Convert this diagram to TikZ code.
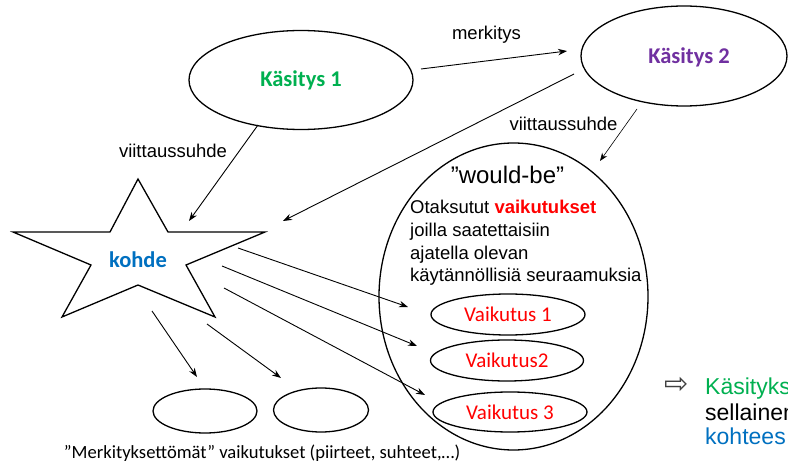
\documentclass[tikz,border=0pt]{standalone}
\usepackage{fontspec}
\setmainfont{Liberation Sans}
\newfontfamily\calib{Carlito}
\newfontfamily\djv{DejaVu Sans}
\usetikzlibrary{shapes.geometric,arrows.meta}
\definecolor{kgreen}{RGB}{0,176,80}
\definecolor{kpurple}{RGB}{112,48,160}
\definecolor{kblue}{RGB}{0,112,192}
\definecolor{kred}{RGB}{255,0,0}
\definecolor{kgray}{RGB}{64,64,64}
\begin{document}
\begin{tikzpicture}[x=1pt,y=-1pt,
  ell/.style={draw, ellipse, line width=1.3pt, inner sep=0pt},
  arr/.style={-{Stealth[length=9pt,width=6.5pt]}, line width=0.9pt},
  thinarr/.style={-{Stealth[length=8pt,width=6pt]}, line width=0.6pt},
  lbl/.style={inner sep=0pt, font=\fontsize{18.5}{22}\selectfont},
  ktxt/.style={inner sep=0pt, font=\calib\bfseries\fontsize{22.5}{26}\selectfont},
  vtxt/.style={inner sep=0pt, text=kred, font=\calib\fontsize{21}{24}\selectfont},
  wbtxt/.style={inner sep=0pt, anchor=base west, font=\fontsize{18.5}{22}\selectfont},
  rtxt/.style={inner sep=0pt, anchor=base west, font=\fontsize{23}{26}\selectfont}]
\useasboundingbox (0,0) rectangle (788,465);
\begin{scope}
\clip (0,0) rectangle (788,465);
% Kasitys ellipses
\node[ell, minimum width=224pt, minimum height=99pt] (k1) at (301,80) {};
\node[ktxt, text=kgreen] (k1t) at (301,80) {Käsitys 1};
\node[ell, minimum width=206pt, minimum height=100pt] (k2) at (684,56) {};
\node[ktxt, text=kpurple] (k2t) at (689,57) {Käsitys 2};
% star
\draw[line width=1.3pt, line join=miter] (138,179) -- (168,232) -- (265,232) -- (186,265) -- (215,317)
  -- (138,285) -- (62,317) -- (91,265) -- (13,232) -- (110,232) -- cycle;
\node[ktxt, text=kblue] (kohde) at (138,260) {kohde};
% would-be ellipse
\node[ell, minimum width=269pt, minimum height=307pt] (wb) at (513.5,296.5) {};
\node[inner sep=0pt, anchor=base, font=\fontsize{24}{28}\selectfont] (wbt) at (507.5,184) {”would-be”};
\node[wbtxt] (l1) at (410,213.3) {Otaksutut \textcolor{kred}{\bfseries vaikutukset}};
\node[wbtxt] (l2) at (410,236.5) {joilla saatettaisiin};
\node[wbtxt] (l3) at (410,259.3) {ajatella olevan};
\node[wbtxt] (l4) at (410,282) {käytännöllisiä seuraamuksia};
% Vaikutus ellipses
\node[ell, minimum width=154pt, minimum height=41pt] (v1) at (508,314.5) {};
\node[vtxt] (v1t) at (508,314.5) {Vaikutus 1};
\node[ell, minimum width=153pt, minimum height=41pt] (v2) at (507,360.5) {};
\node[vtxt] (v2t) at (507,360.5) {Vaikutus2};
\node[ell, minimum width=154pt, minimum height=40pt] (v3) at (510,412) {};
\node[vtxt] (v3t) at (510,412) {Vaikutus 3};
% small ellipses
\node[ell, minimum width=104pt, minimum height=44pt] (s1) at (205,411) {};
\node[ell, minimum width=95pt, minimum height=44pt] (s2) at (321,410) {};
\node[inner sep=0pt, anchor=base, font=\calib\fontsize{18.6}{22}\selectfont] (mlab) at (262,458) {”Merkityksettömät” vaikutukset (piirteet, suhteet,…)};
% arrow endpoints
\coordinate (m1) at (421,69);   \coordinate (m2) at (567,51);
\coordinate (a1s) at (258,125); \coordinate (a1e) at (189,221);
\coordinate (a2s) at (574,74);  \coordinate (a2e) at (283,221);
\coordinate (a3s) at (637,109); \coordinate (a3e) at (600,161);
\coordinate (b1s) at (238,248); \coordinate (b1e) at (408,307);
\coordinate (b2s) at (222,266); \coordinate (b2e) at (417,346);
\coordinate (b3s) at (224,288); \coordinate (b3e) at (425,395);
\coordinate (c1s) at (152,311); \coordinate (c1e) at (197,377);
\coordinate (c2s) at (207,324); \coordinate (c2e) at (281,378);
\draw[arr] (m1) -- (m2);
\draw[arr] (a1s) -- (a1e);
\draw[arr] (a2s) -- (a2e);
\draw[thinarr] (a3s) -- (a3e);
\draw[arr] (b1s) -- (b1e);
\draw[arr] (b2s) -- (b2e);
\draw[arr] (b3s) -- (b3e);
\draw[arr] (c1s) -- (c1e);
\draw[arr] (c2s) -- (c2e);
\node[lbl] (merk) at (486.5,35) {merkitys};
\node[lbl] (vs1) at (173,151) {viittaussuhde};
\node[lbl] (vs2) at (563.5,124) {viittaussuhde};
% right text
\node[inner sep=0pt, text=kgray, font=\djv\fontsize{29}{30}\selectfont] (rarr) at (676.5,385) {⇨};
\node[rtxt, text=kgreen] (r1) at (705,394) {Käsityks};
\node[rtxt] (r2) at (705,420) {sellainen};
\node[rtxt, text=kblue] (r3) at (705,444) {kohtees};
\end{scope}
\end{tikzpicture}
\end{document}
